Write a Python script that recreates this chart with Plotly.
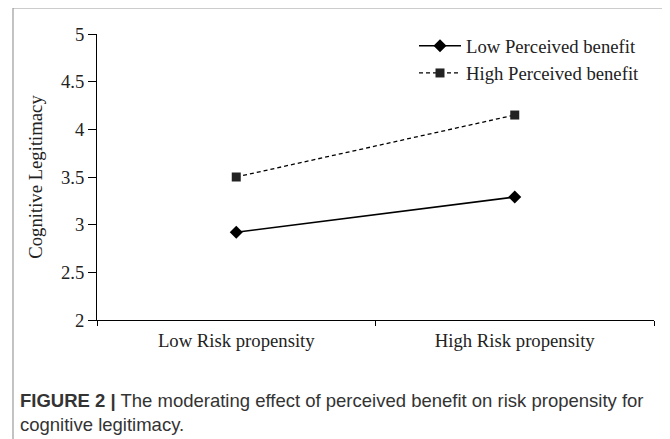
import plotly.graph_objects as go

categories = ["Low Risk propensity", "High Risk propensity"]
low_benefit = [2.92, 3.29]
high_benefit = [3.50, 4.15]
series_names = ["Low Perceived benefit", "High Perceived benefit"]
caption_bold = "FIGURE 2 |"
caption_text = " The moderating effect of perceived benefit on risk propensity for<br>cognitive legitimacy."

SERIF = "Liberation Serif, Times New Roman, serif"
SANS = "Liberation Sans, Arial, sans-serif"
FS = 18.7

fig = go.Figure()
fig.add_trace(go.Scatter(
    x=categories, y=low_benefit, name=series_names[0], mode="lines+markers",
    line=dict(color="black", width=1.5),
    marker=dict(symbol="diamond", size=10, color="black"),
))
fig.add_trace(go.Scatter(
    x=categories, y=high_benefit, name=series_names[1], mode="lines+markers",
    line=dict(color="black", width=1.3, dash="4px,3px"),
    marker=dict(symbol="square", size=9, color="#222"),
))

# page body has an 8px default margin; work in window coordinates
OFF = 8
W, H = 670 - OFF, 439 - OFF
L, R, T, B = 97 - OFF, 16, 34 - OFF, 119
pw, ph = W - L - R, H - T - B

def px(x):
    return (x - OFF - L) / pw

def py(y):
    return (H - B - (y - OFF)) / ph

frame = dict(color="#9a9a9a", width=1.2)
shapes = [
    dict(type="line", xref="paper", yref="paper", x0=px(13), x1=px(13), y0=py(8), y1=py(445), line=frame),
    dict(type="line", xref="paper", yref="paper", x0=px(13), x1=px(667), y0=py(8), y1=py(8), line=frame),
    dict(type="line", xref="paper", yref="paper", x0=px(667), x1=px(667), y0=py(8), y1=py(445), line=frame),
]

fig.update_layout(
    width=W, height=H,
    margin=dict(l=L, r=R, t=T, b=B),
    paper_bgcolor="white", plot_bgcolor="white",
    font=dict(family=SERIF, size=FS, color="#222"),
    showlegend=True,
    legend=dict(x=px(414), y=py(27), xanchor="left", yanchor="top",
                bgcolor="rgba(0,0,0,0)", font=dict(family=SERIF, size=FS, color="#222"),
                tracegroupgap=0, itemwidth=42),
    shapes=shapes,
    xaxis=dict(type="category", range=[-0.5, 1.5], tickson="boundaries",
               ticks="outside", ticklen=5, tickcolor="black", showline=True,
               linecolor="black", linewidth=1, showgrid=False, zeroline=False,
               ticklabelstandoff=4,
               tickfont=dict(family=SERIF, size=FS, color="#222")),
    yaxis=dict(range=[2, 5], dtick=0.5, ticks="outside", ticklen=8, tickcolor="black",
               showline=True, linecolor="black", linewidth=1, showgrid=False, zeroline=False,
               tickfont=dict(family=SERIF, size=FS, color="#222"),
               title=dict(text="Cognitive Legitimacy", standoff=13,
                          font=dict(family=SERIF, size=FS, color="#222"))),
    annotations=[
        dict(xref="paper", yref="paper", x=px(18), y=py(388), xanchor="left", yanchor="top",
             align="left", showarrow=False,
             text="<b>" + caption_bold + "</b>" + caption_text,
             font=dict(family=SANS, size=18.5, color="#333")),
    ],
)

fig.write_html("out.html")
